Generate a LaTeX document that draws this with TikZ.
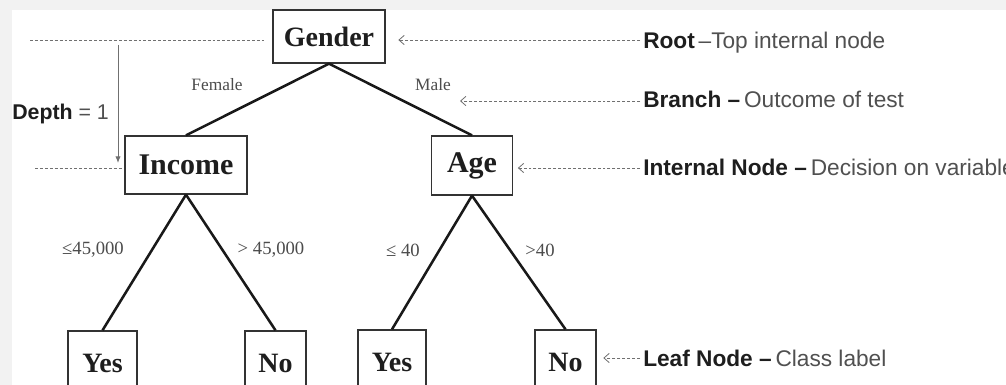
\documentclass[tikz,border=0pt]{standalone}
\usepackage{fontspec}
\setmainfont{Liberation Serif}
\setsansfont{Liberation Sans}
\usetikzlibrary{arrows.meta}
\definecolor{inkgray}{HTML}{1E1E1E}
\definecolor{notegray}{HTML}{505050}
\definecolor{dashgray}{HTML}{707070}
\definecolor{framebg}{HTML}{F2F2F2}
\def\px{0.75pt}
\newcommand{\Note}[2]{{\bfseries\color{inkgray}#1}\,{\color{notegray}#2}}

\begin{document}
\begin{tikzpicture}[x=\px,y=-\px,
  treebox/.style={draw=black!80,line width=1pt,inner sep=0pt,text=inkgray,
    font=\fontsize{21}{21}\selectfont\bfseries},
  leafbox/.style={treebox,minimum height=48pt},
  edge/.style={line width=1.9pt,black!90},
  elab/.style={inner sep=0pt,text=black!70,font=\fontsize{13}{13}\selectfont},
  guide/.style={dashgray,line width=0.6pt,dash pattern=on 2.2pt off 1.5pt},
  pointer/.style={guide,-{Straight Barb[length=4pt,width=7pt]}},
  notetxt/.style={anchor=base west,inner sep=0pt,font=\sffamily\fontsize{17}{17}\selectfont}]

% --- page frame ------------------------------------------------------
\useasboundingbox (0,0) rectangle (1006,385);
\fill[framebg] (0,0) rectangle (1006,385);
\fill[white] (12,10) rectangle (1006,385);

% --- tree nodes ------------------------------------------------------
\node[treebox,minimum width=84pt,minimum height=39.75pt] (gender) at (329,36.5) {Gender};
\node[treebox,minimum width=91.5pt,minimum height=43.5pt,font=\fontsize{22.5}{22.5}\selectfont\bfseries] (income) at (186,165) {Income};
\node[treebox,minimum width=60.75pt,minimum height=44.25pt,font=\fontsize{22.5}{22.5}\selectfont\bfseries] (age) at (472,165.5) {Age};
\node[leafbox,minimum width=51.75pt] (yes1) at (102.5,363) {Yes};
\node[leafbox,minimum width=45.75pt] (no1) at (275.5,363) {No};
\node[leafbox,minimum width=51pt] (yes2) at (392,362) {Yes};
\node[leafbox,minimum width=45.75pt] (no2) at (565.5,362) {No};

% --- branches --------------------------------------------------------
\draw[edge] (gender.south) -- (income.north);
\draw[edge] (gender.south) -- (age.north);
\draw[edge] (income.south) -- (yes1.north);
\draw[edge] (income.south) -- (no1.north);
\draw[edge] (age.south) -- (yes2.north);
\draw[edge] (age.south) -- (no2.north);

% --- branch labels ---------------------------------------------------
\node[elab] (female) at (217,85) {Female};
\node[elab] (male) at (433,85) {Male};
\node[elab,font=\fontsize{14}{14}\selectfont] (inclo) at (93,250) {≤45,000};
\node[elab,font=\fontsize{14}{14}\selectfont] (inchi) at (271,250) {> 45,000};
\node[elab,font=\fontsize{14}{14}\selectfont] (agelo) at (403,250) {≤ 40};
\node[elab,font=\fontsize{14}{14}\selectfont] (agehi) at (540,250) {>40};

% --- depth marker ----------------------------------------------------
\coordinate (lvl0) at (30,40);
\coordinate (lvl1) at (35,168);
\coordinate (depthtop) at (118,45);
\coordinate (depthend) at (118,163);
\draw[guide,shorten >=6pt] (lvl0) -- (gender.west |- lvl0);
\draw[guide,shorten >=2pt] (lvl1) -- (income.west |- lvl1);
\draw[dashgray,line width=0.7pt,-{Latex[length=5pt,width=4pt]}] (depthtop) -- (depthend);
\node[notetxt,font=\sffamily\fontsize{16}{16}\selectfont] (depth) at (12,119)
  {{\bfseries\color{inkgray}Depth} {\color{notegray}= 1}};

% --- annotations -----------------------------------------------------
\node[notetxt] (roottxt) at (643,49) {\Note{Root}{–Top internal node}};
\node[notetxt] (branchtxt) at (643,108) {\Note{Branch –}{ Outcome of test}};
\node[notetxt] (inttxt) at (643,175) {\Note{Internal Node –}{Decision on variable}};
\node[notetxt] (leaftxt) at (643,366) {\Note{Leaf Node –}{Class label}};

\coordinate (rootfrom) at (640,40);
\coordinate (branchfrom) at (640,101);
\coordinate (branchtip) at (460,101);
\coordinate (intfrom) at (640,168);
\coordinate (leaffrom) at (640,358);
\draw[pointer,shorten >=9.5pt] (rootfrom) -- (rootfrom -| gender.east);
\draw[pointer] (branchfrom) -- (branchtip);
\draw[pointer,shorten >=3.5pt] (intfrom) -- (intfrom -| age.east);
\draw[pointer,shorten >=5pt] (leaffrom) -- (leaffrom -| no2.east);

\end{tikzpicture}
\end{document}
